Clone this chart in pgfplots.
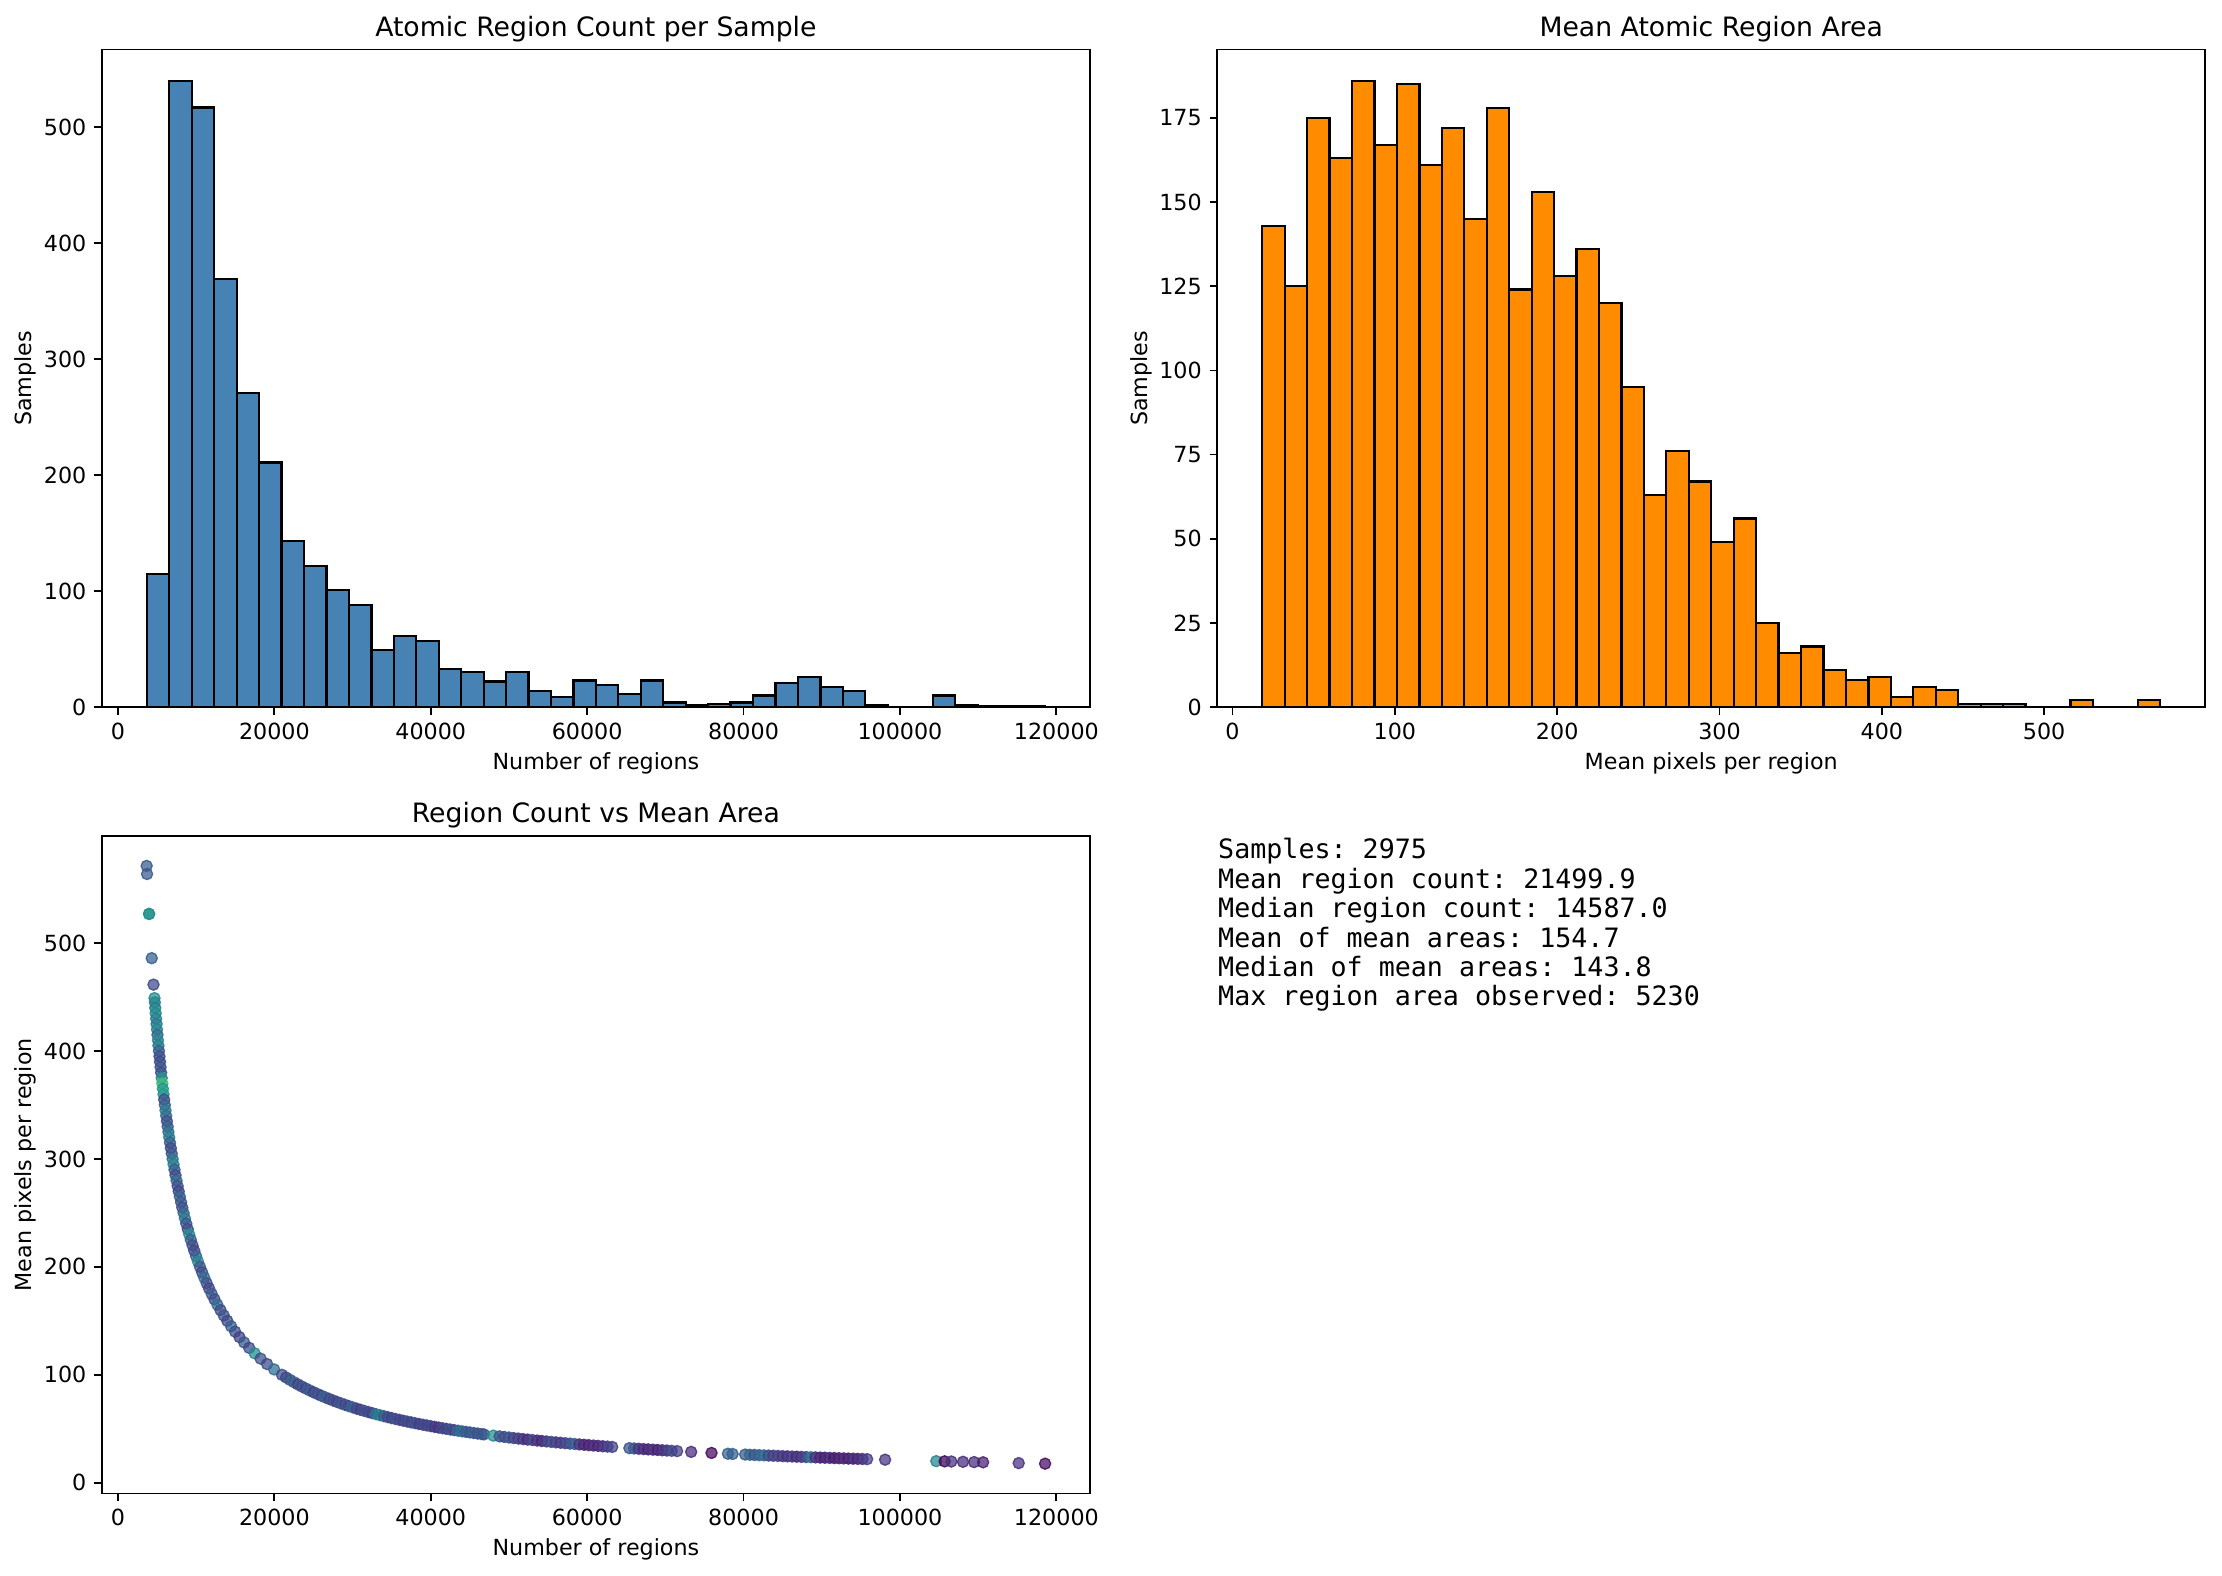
\documentclass[border=0pt]{standalone}
\usepackage{fontspec}
\setmainfont{DejaVu Sans}
\newfontfamily\statsfont{DejaVu Sans Mono}
\usepackage{pgfplots}
\pgfplotsset{compat=1.18}
\frenchspacing

\definecolor{steelblue}{HTML}{4682B4}
\definecolor{darkorange}{HTML}{FF8C00}

% common look of the three panels
\pgfplotsset{
  panel/.style={
    scale only axis,
    width=444.5pt, height=295.9pt,
    axis line style={line width=0.8pt},
    tick align=outside,
    major tick length=3.5pt,
    every tick/.style={black, line width=0.8pt},
    xtick pos=left, ytick pos=left,
    tick label style={font=\fontsize{10}{12}\selectfont},
    label style={font=\fontsize{10}{12}\selectfont},
    every axis title shift=0pt,
    title style={font=\fontsize{12}{14}\selectfont, at={(axis description cs:0.5,1.0203)}, anchor=base, inner sep=0pt},
    xlabel style={at={(axis description cs:0.5,-0.085)}, anchor=center, inner sep=0pt},
    ylabel style={at={(axis description cs:-0.0774,0.5)}, anchor=center, inner sep=0pt, rotate=0},
    /pgf/number format/assume math mode=true,
    /pgf/number format/fixed,
    /pgf/number format/1000 sep={},
    scaled ticks=false,
  },
}

\begin{document}
\begin{tikzpicture}
\useasboundingbox (0,0) rectangle (999.9pt,709.1pt);

% ---------------- region counts histogram ----------------
\begin{axis}[panel,
  at={(45.9pt,390.9pt)}, anchor=south west,
  title={Atomic Region Count per Sample},
  xlabel={Number of regions}, ylabel={Samples},
  xmin=-2042, xmax=124272, ymin=0, ymax=567,
  xtick={0,20000,40000,60000,80000,100000,120000},
  ytick={0,100,200,300,400,500},
]
\addplot[ybar interval, fill=steelblue, draw=black, line width=1pt] table {
x y
3700 115
6570.75 540
9441.5 517
12312.25 369
15183 271
18053.75 211
20924.5 143
23795.25 122
26666 101
29536.75 88
32407.5 49
35278.25 61
38149 57
41019.75 33
43890.5 30
46761.25 22
49632 30
52502.75 14
55373.5 9
58244.25 23
61115 19
63985.75 11
66856.5 23
69727.25 4
72598 2
75468.75 3
78339.5 4
81210.25 10
84081 21
86951.75 26
89822.5 17
92693.25 14
95564 2
98434.75 0
101305.5 0
104176.25 10
107047 2
109917.75 1
112788.5 1
115659.25 1
118530 0
};
\end{axis}

% ---------------- mean area histogram ----------------
\begin{axis}[panel,
  at={(547.8pt,390.9pt)}, anchor=south west,
  title={Mean Atomic Region Area},
  xlabel={Mean pixels per region}, ylabel={Samples},
  xmin=-9.36, xmax=599.16, ymin=0, ymax=195.3,
  xtick={0,100,200,300,400,500},
  ytick={0,25,50,75,100,125,150,175},
]
\addplot[ybar interval, fill=darkorange, draw=black, line width=1pt] table {
x y
18.3 143
32.13 125
45.96 175
59.79 163
73.62 186
87.45 167
101.28 185
115.11 161
128.94 172
142.77 145
156.6 178
170.43 124
184.26 153
198.09 128
211.92 136
225.75 120
239.58 95
253.41 63
267.24 76
281.07 67
294.9 49
308.73 56
322.56 25
336.39 16
350.22 18
364.05 11
377.88 8
391.71 9
405.54 3
419.37 6
433.2 5
447.03 1
460.86 1
474.69 1
488.52 0
502.35 0
516.18 2
530.01 0
543.84 0
557.67 2
571.5 0
};
\end{axis}

% ---------------- count vs mean area ----------------
\begin{axis}[panel,
  at={(45.9pt,37.0pt)}, anchor=south west,
  title={Region Count vs Mean Area},
  xlabel={Number of regions}, ylabel={Mean pixels per region},
  xmin=-2042, xmax=124272, ymin=-10.0, ymax=599.2,
  xtick={0,20000,40000,60000,80000,100000,120000},
  ytick={0,100,200,300,400,500},
  colormap/viridis, point meta min=0, point meta max=1,
]
\addplot[scatter, only marks, mark=*, mark size=2.5pt, line width=0.6pt,
  scatter src=explicit,
  scatter/use mapped color={draw=mapped color, fill=mapped color, fill opacity=0.72, draw opacity=0.85}]
  table[x=x, y=y, meta=c] {
x y c
3669.6 571.5 0.28
3718.4 564 0.28
3979.4 527 0.50
3979.4 527 0.50
4315.1 486 0.30
4544.2 461.5 0.22
4670.7 449 0.48
4712.7 445 0.45
4766.3 440 0.42
4821.0 435 0.47
4877.1 430 0.44
4934.5 425 0.40
4993.2 420 0.46
5053.4 415 0.33
5115.0 410 0.45
5178.2 405 0.42
5242.9 400 0.30
5309.2 395 0.24
5377.3 390 0.22
5447.1 385 0.26
5518.8 380 0.23
5592.4 375 0.48
5668.0 370 0.68
5745.6 365 0.52
5825.4 360 0.55
5907.5 355 0.22
5991.9 350 0.30
6078.7 345 0.40
6168.1 340 0.35
6260.2 335 0.24
6355.0 330 0.28
6452.8 325 0.36
6553.6 320 0.42
6657.6 315 0.30
6765.0 310 0.22
6875.9 305 0.26
6990.5 300 0.38
7109.0 295 0.44
7231.6 290 0.28
7358.4 285 0.22
7489.8 280 0.34
7626.0 275 0.25
7767.2 270 0.20
7913.8 265 0.30
8066.0 260 0.27
8224.1 255 0.23
8388.6 250 0.32
8559.8 245 0.40
8738.1 240 0.26
8924.0 235 0.22
9118.1 230 0.48
9320.7 225 0.28
9532.5 220 0.24
9754.2 215 0.21
9986.4 210 0.30
10230.0 205 0.45
10485.8 200 0.26
10754.6 195 0.22
11037.6 190 0.34
11335.9 185 0.25
11650.8 180 0.20
11983.7 175 0.28
12336.2 170 0.23
12710.0 165 0.35
13107.2 160 0.22
13530.0 155 0.26
13981.0 150 0.21
14463.1 145 0.30
14979.7 140 0.24
15534.5 135 0.20
16131.9 130 0.28
16777.2 125 0.22
17476.3 120 0.48
18236.1 115 0.25
19065.0 110 0.22
19972.9 105 0.36
20971.5 100 0.24
21500 97.54 0.22
22000 95.33 0.26
22500 93.21 0.30
23000 91.18 0.20
23500 89.24 0.24
24000 87.38 0.22
24500 85.60 0.28
25000 83.89 0.20
25500 82.24 0.25
26000 80.66 0.22
26500 79.14 0.30
27000 77.67 0.21
27500 76.26 0.24
28000 74.90 0.20
28500 73.58 0.26
29000 72.32 0.22
29500 71.09 0.23
30000 69.90 0.32
30500 68.76 0.21
31000 67.65 0.18
31500 66.58 0.25
32000 65.54 0.22
32500 64.53 0.20
33000 63.55 0.38
33500 62.60 0.42
34000 61.68 0.30
34500 60.79 0.22
35000 59.92 0.20
35500 59.07 0.24
36000 58.25 0.21
36500 57.46 0.19
37000 56.68 0.23
37500 55.92 0.20
38000 55.19 0.26
38500 54.47 0.18
39000 53.77 0.22
39500 53.09 0.20
40000 52.43 0.21
40500 51.78 0.17
41000 51.15 0.15
41500 50.53 0.22
42000 49.93 0.19
42500 49.34 0.24
43000 48.77 0.20
43500 48.21 0.33
44000 47.66 0.35
44500 47.13 0.28
45000 46.60 0.26
45500 46.09 0.30
46000 45.59 0.24
46500 45.10 0.28
46800 44.81 0.26
48000 43.69 0.50
48800 42.97 0.25
49400 42.45 0.22
50000 41.94 0.26
50600 41.44 0.20
51200 40.96 0.18
51800 40.49 0.15
52400 40.02 0.12
53000 39.57 0.20
53600 39.13 0.14
54200 38.69 0.10
54800 38.27 0.18
55400 37.85 0.22
56000 37.45 0.18
56600 37.05 0.16
57200 36.66 0.20
57800 36.28 0.24
58400 35.91 0.30
59000 35.54 0.15
59600 35.19 0.10
60200 34.84 0.09
60800 34.49 0.12
61400 34.16 0.10
62000 33.82 0.14
62600 33.50 0.18
63200 33.18 0.20
65400 32.07 0.25
66000 31.77 0.28
66600 31.49 0.15
67200 31.21 0.12
67800 30.93 0.10
68400 30.66 0.14
69000 30.39 0.08
69600 30.13 0.12
70200 29.87 0.16
70800 29.62 0.22
71500 29.33 0.18
73300 28.61 0.12
75900 27.63 0.02
78000 26.89 0.32
78600 26.68 0.30
80200 26.15 0.28
80800 25.95 0.34
81400 25.76 0.25
82000 25.57 0.30
82600 25.39 0.36
83200 25.21 0.22
83800 25.03 0.18
84400 24.85 0.20
85000 24.67 0.16
85600 24.50 0.14
86200 24.33 0.18
86800 24.16 0.12
87400 23.99 0.15
88000 23.83 0.20
88600 23.67 0.38
89200 23.51 0.14
89800 23.35 0.10
90400 23.20 0.08
91000 23.05 0.12
91600 22.89 0.06
92200 22.75 0.09
92800 22.60 0.10
93400 22.45 0.08
94000 22.31 0.12
94600 22.17 0.10
95200 22.03 0.14
95800 21.89 0.18
98100 21.38 0.15
104640 20.04 0.45
105710 19.84 0.00
106570 19.68 0.14
108060 19.41 0.12
109480 19.16 0.12
110630 18.96 0.08
115180 18.21 0.14
118560 17.69 0.03
};
\end{axis}

% ---------------- summary statistics ----------------
\begin{scope}[every node/.style={anchor=base west, inner sep=0pt, font=\statsfont\fontsize{12}{14}\selectfont}]
\node at (548.0pt,322.7pt) {Samples: 2975};
\node at (548.0pt,309.4pt) {Mean region count: 21499.9};
\node at (548.0pt,296.2pt) {Median region count: 14587.0};
\node at (548.0pt,282.9pt) {Mean of mean areas: 154.7};
\node at (548.0pt,269.7pt) {Median of mean areas: 143.8};
\node at (548.0pt,256.4pt) {Max region area observed: 5230};
\end{scope}
\end{tikzpicture}
\end{document}
